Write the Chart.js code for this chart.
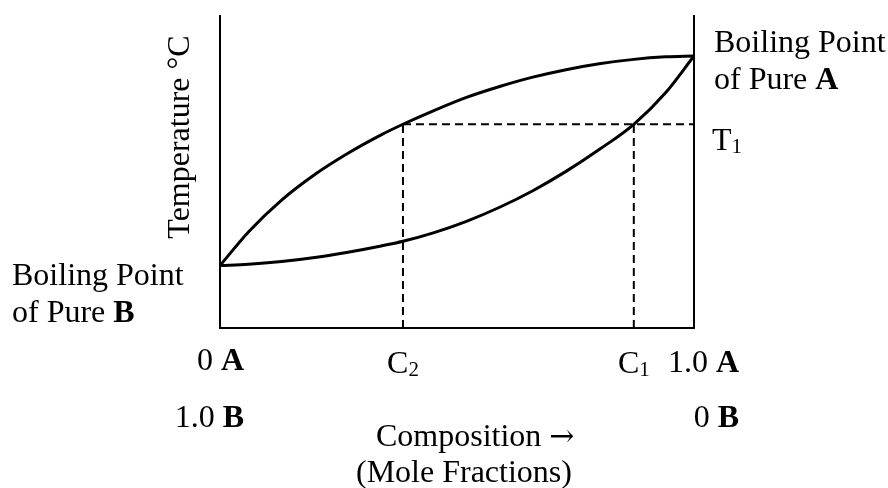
<!DOCTYPE html>
<html>
<head>
<meta charset="utf-8">
<script src="https://cdn.jsdelivr.net/npm/chart.js@4"></script>
<style>
  html, body { margin: 0; padding: 0; background: #fff; }
  #wrap { width: 888px; height: 488px; position: relative; }
</style>
</head>
<body>
<div id="wrap"><canvas id="phaseChart" width="888" height="488"></canvas></div>
<script>
// composition (mole fraction of A) and temperatures
const composition = [0, 0.06, 0.13, 0.2, 0.27, 0.34, 0.386, 0.45, 0.52, 0.59, 0.66, 0.73, 0.8, 0.873, 0.94, 1];
const vaporTemps  = [20, 30.8, 41, 49.2, 56, 61.9, 65.3, 69.6, 73.9, 77.4, 80.4, 82.8, 84.7, 86.1, 86.9, 87.2];
const liquidTemps = [20, 20.4, 21.3, 22.6, 24.3, 26.3, 27.8, 30.5, 34.2, 38.7, 44.0, 50.2, 57.2, 65.3, 75.4, 87.2];
const c2 = 0.386;
const c1 = 0.873;
const t1 = 65.3;

const SERIF = '"Liberation Serif", "Times New Roman", serif';
const FONT_SIZE = 32;
const SUB_SIZE = 21;

function toPoints(xs, ys) {
    return xs.map((x, i) => ({ x: x, y: ys[i] }));
}

const curveStyle = {
    borderColor: '#000',
    borderWidth: 3,
    pointRadius: 0,
    cubicInterpolationMode: 'monotone',
    fill: false
};
const dashStyle = {
    borderColor: '#000',
    borderWidth: 2,
    borderDash: [8, 5],
    pointRadius: 0,
    fill: false
};

// 文字ラベルをキャンバスに描く（太字・下付きを含む）
function setFont(ctx, r) {
    ctx.font = (r.bold ? 'bold ' : '') + (r.size || FONT_SIZE) + 'px ' + (r.family || SERIF);
}
function drawRuns(ctx, x, y, runs) {
    let cx = x;
    runs.forEach(r => {
        setFont(ctx, r);
        ctx.fillText(r.text, cx, y + (r.dy || 0));
        cx += ctx.measureText(r.text).width;
    });
    return cx;
}
function runsWidth(ctx, runs) {
    let w = 0;
    runs.forEach(r => {
        setFont(ctx, r);
        w += ctx.measureText(r.text).width;
    });
    return w;
}

const labelPlugin = {
    id: 'labels',
    afterDraw(chart) {
        const ctx = chart.ctx;
        const xs = chart.scales.x;
        ctx.save();
        ctx.fillStyle = '#000';
        ctx.textBaseline = 'alphabetic';
        ctx.textAlign = 'left';

        // y axis title
        ctx.save();
        ctx.translate(189, 137);
        ctx.rotate(-Math.PI / 2);
        ctx.font = FONT_SIZE + 'px ' + SERIF;
        ctx.textAlign = 'center';
        ctx.fillText('Temperature \u00B0C', 0, 0);
        ctx.restore();

        // right side notes
        drawRuns(ctx, 714, 52, [{ text: 'Boiling Point' }]);
        drawRuns(ctx, 714, 89, [{ text: 'of Pure ' }, { text: 'A', bold: true }]);
        drawRuns(ctx, 712, 150, [{ text: 'T' }, { text: '1', size: SUB_SIZE, dy: 3 }]);

        // left side notes
        drawRuns(ctx, 12, 285, [{ text: 'Boiling Point' }]);
        drawRuns(ctx, 12, 322, [{ text: 'of Pure ' }, { text: 'B', bold: true }]);

        // bottom composition labels
        const leftEnd = 244;
        const rightEnd = 739;
        const zeroA = [{ text: '0 ' }, { text: 'A', bold: true }];
        const oneB = [{ text: '1.0 ' }, { text: 'B', bold: true }];
        const oneA = [{ text: '1.0 ' }, { text: 'A', bold: true }];
        const zeroB = [{ text: '0 ' }, { text: 'B', bold: true }];
        drawRuns(ctx, leftEnd - runsWidth(ctx, zeroA), 370, zeroA);
        drawRuns(ctx, leftEnd - runsWidth(ctx, oneB), 427, oneB);
        drawRuns(ctx, rightEnd - runsWidth(ctx, oneA), 372, oneA);
        drawRuns(ctx, rightEnd - runsWidth(ctx, zeroB), 427, zeroB);

        const c2Runs = [{ text: 'C' }, { text: '2', size: SUB_SIZE, dy: 3 }];
        const c1Runs = [{ text: 'C' }, { text: '1', size: SUB_SIZE, dy: 3 }];
        drawRuns(ctx, xs.getPixelForValue(c2) - runsWidth(ctx, c2Runs) / 2, 373, c2Runs);
        drawRuns(ctx, xs.getPixelForValue(c1) - runsWidth(ctx, c1Runs) / 2, 373, c1Runs);

        drawRuns(ctx, 376, 446, [
            { text: 'Composition ' },
            { text: '\u2192', family: '"DejaVu Serif", serif', size: 30 }
        ]);
        drawRuns(ctx, 356, 482, [{ text: '(Mole Fractions)' }]);
        ctx.restore();
    }
};

new Chart(document.getElementById('phaseChart').getContext('2d'), {
    type: 'line',
    data: {
        datasets: [
            Object.assign({ data: toPoints(composition, vaporTemps) }, curveStyle),
            Object.assign({ data: toPoints(composition, liquidTemps) }, curveStyle),
            Object.assign({ data: [{ x: c2, y: t1 }, { x: 1, y: t1 }] }, dashStyle),
            Object.assign({ data: [{ x: c2, y: 0 }, { x: c2, y: t1 }] }, dashStyle),
            Object.assign({ data: [{ x: c1, y: 0 }, { x: c1, y: t1 }] }, dashStyle)
        ]
    },
    options: {
        responsive: false,
        animation: false,
        layout: { padding: { left: 212, right: 186, top: 16, bottom: 152 } },
        plugins: { legend: { display: false }, tooltip: { enabled: false } },
        scales: {
            x: {
                type: 'linear', min: 0, max: 1,
                grid: { display: false },
                ticks: { display: false },
                border: { display: true, color: '#000', width: 2 }
            },
            y: {
                min: 0, max: 100,
                grid: { display: false },
                ticks: { display: false },
                border: { display: true, color: '#000', width: 2 }
            },
            y2: {
                position: 'right', min: 0, max: 100,
                grid: { display: false },
                ticks: { display: false },
                border: { display: true, color: '#000', width: 2 }
            }
        }
    },
    plugins: [labelPlugin]
});
</script>
</body>
</html>
